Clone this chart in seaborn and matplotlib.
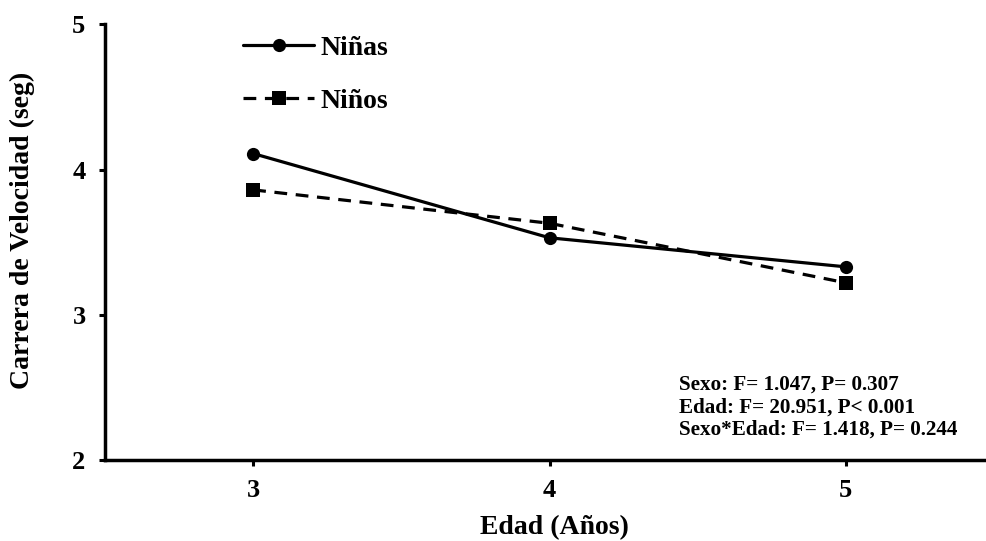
import matplotlib
matplotlib.use("Agg")
import matplotlib.pyplot as plt
import seaborn as sns
import pandas as pd

edad = [3, 4, 5]
ninas = [4.11, 3.53, 3.33]
ninos = [3.86, 3.63, 3.22]
stats_lines = ["Sexo: F= 1.047, P= 0.307",
               "Edad: F= 20.951, P< 0.001",
               "Sexo*Edad: F= 1.418, P= 0.244"]

df = pd.DataFrame({
    "Edad": edad + edad,
    "valor": ninas + ninos,
    "Sexo": ["Niñas"] * 3 + ["Niños"] * 3,
})

sns.set_style("ticks", rc={"text.color": "black", "axes.labelcolor": "black",
                           "xtick.color": "black", "ytick.color": "black",
                           "axes.edgecolor": "black"})
plt.rcParams['font.family'] = ['Liberation Serif', 'DejaVu Serif']
plt.rcParams['font.weight'] = 'bold'

fig = plt.figure(figsize=(9.87, 5.41), dpi=100)
ax = fig.add_axes([105/987, (541-460)/541, (994-105)/987, (460-24.3)/541])

sns.lineplot(data=df, x="Edad", y="valor", hue="Sexo", style="Sexo",
             palette={"Niñas": "black", "Niños": "black"},
             markers={"Niñas": "o", "Niños": "s"},
             dashes={"Niñas": "", "Niños": (4, 2.7)},
             markersize=9.5, linewidth=2.3, markeredgewidth=0, ax=ax)

ax.set_xlim(2.5, 5.5)
ax.set_ylim(2, 5)
ax.set_xticks(edad)
ax.set_yticks([2, 3, 4, 5])
ax.tick_params(axis='both', labelsize=19, width=2.2, length=4, direction='out')
ax.tick_params(axis='x', pad=10)
ax.tick_params(axis='y', pad=10)
for lab in ax.get_xticklabels() + ax.get_yticklabels():
    lab.set_fontweight('bold')
for s in ['top', 'right']:
    ax.spines[s].set_visible(False)
for s in ['left', 'bottom']:
    ax.spines[s].set_linewidth(2.5)

ax.set_xlabel("Edad (Años)", fontsize=20, fontweight='bold')
ax.set_ylabel("Carrera de Velocidad (seg)", fontsize=20, fontweight='bold')
ax.xaxis.set_label_coords(0.506, -0.126)
ax.yaxis.set_label_coords(-0.079, 0.526)

leg = ax.legend(loc='upper left', bbox_to_anchor=(0.143, 1.0), frameon=False,
                borderaxespad=0, handlelength=2.55, labelspacing=1.0,
                handletextpad=0.22,
                prop={'family': 'Liberation Serif', 'weight': 'bold', 'size': 20})

ax.text(0.646, 0.196, "\n".join(stats_lines), transform=ax.transAxes,
        fontsize=15.2, fontweight='bold', va='top', ha='left', linespacing=1.18)

fig.savefig("out.png", dpi=100)
